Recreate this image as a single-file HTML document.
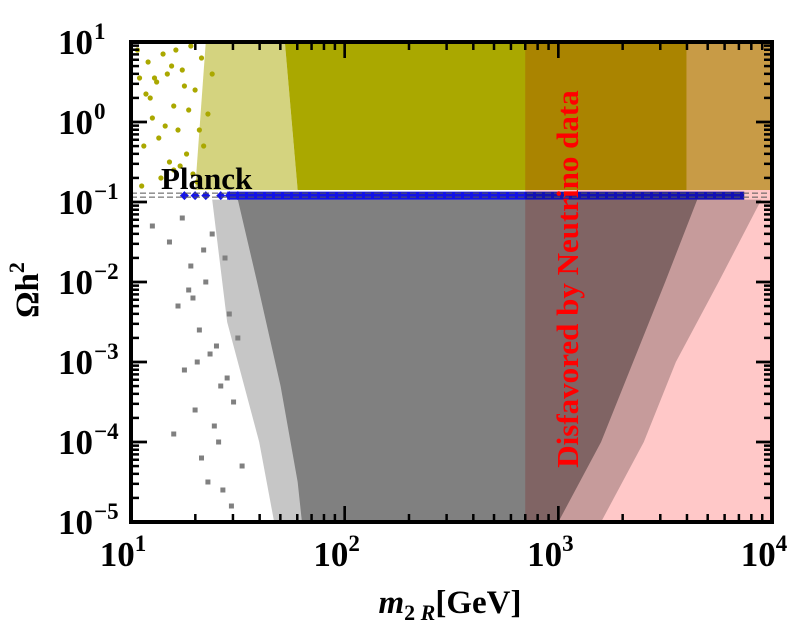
<!DOCTYPE html>
<html><head><meta charset="utf-8"><style>
body{margin:0;background:#fff}
svg text{font-family:"Liberation Serif",serif;font-weight:bold}
</style></head><body>
<svg width="800" height="624" viewBox="0 0 800 624" xmlns="http://www.w3.org/2000/svg">
<defs><clipPath id="pc"><rect x="131" y="42" width="641" height="480"/></clipPath></defs>
<g id="plot" clip-path="url(#pc)"></g>
<g id="over"></g>
<g id="axes"></g>
</svg>
<script>
// log10 coordinates
const xTicksMajor=[1,2,3,4];
const yTicksMajor=[1,0,-1,-2,-3,-4,-5];
const xTickLabels=["1","2","3","4"];
const yTickLabels=["1","0","\u22121","\u22122","\u22123","\u22124","\u22125"];
const planckY=Math.log10(0.12);
const excludedFrom=Math.log10(700);
const oliveFringeL=[[1.35,1],[1.72,1],[1.78,-0.85],[1.3,-0.85]];
const oliveCore=[[1.72,1],[3.6,1],[3.6,-0.85],[1.78,-0.85]];
const oliveFringeR=[[3.6,1],[4,1],[4,-0.85],[3.6,-0.85]];
const greyCore=[[1.5,-0.97],[1.59,-2],[1.7,-3.3],[1.78,-4.5],[1.8,-5],[3.0,-5],[3.2,-4],[3.35,-3],[3.5,-2],[3.65,-0.97]];
const greyFringe=[[1.38,-0.97],[1.45,-2.5],[1.6,-4],[1.67,-5],[3.2,-5],[3.4,-4],[3.55,-3],[3.75,-2],[3.95,-0.97]];
const blueBand=[1.45,3.87];
const oliveX=[1.03,1.08,1.12,1.15,1.2,1.06,1.1,1.18,1.24,1.28,1.14,1.22,1.3,1.05,1.17,1.26,1.33,1.09,1.21,1.29,1.36,1.13,1.25,1.31,1.19,1.27,1.34,1.11,1.23,1.38,1.07,1.16,1.2,1.32,1.04];
const oliveY=[0.9,0.75,0.5,0.85,0.2,-0.3,0.05,-0.5,0.65,0.95,-0.7,-0.1,0.4,-0.8,0.6,-0.4,0.8,0.3,0.9,-0.65,0.1,-0.2,0.45,-0.75,0.7,0.15,-0.3,0.55,-0.55,0.6,0.35,-0.05,-0.6,-0.1,0.55];
const greyX=[1.1,1.18,1.22,1.28,1.32,1.25,1.35,1.3,1.38,1.4,1.2,1.33,1.42,1.27,1.36,1.44,1.31,1.39,1.46,1.24,1.37,1.43,1.48,1.34,1.41,1.5,1.45,1.52,1.29,1.47];
const greyY=[-1.3,-1.5,-2.3,-1.8,-2.6,-3.1,-2.0,-3.6,-1.4,-2.8,-3.9,-4.2,-3.3,-2.1,-4.5,-1.7,-3.0,-3.8,-2.4,-1.2,-2.9,-4.6,-3.5,-1.6,-4.0,-2.7,-3.2,-4.3,-2.2,-4.8];
const blueDiamX=[1.25,1.3,1.35,1.42,1.46,1.5];
function X(l){return 131+(l-1)*213.67}
function Y(l){return 42+(1-l)*80}
const NS="http://www.w3.org/2000/svg";
function mk(t,a,p){const e=document.createElementNS(NS,t);for(const k in a)e.setAttribute(k,a[k]);p.appendChild(e);return e}
const plot=document.getElementById('plot'),over=document.getElementById('over'),axes=document.getElementById('axes');
function poly(pts,fill,op,name){const e=mk('polygon',{points:pts.map(p=>X(p[0])+','+Y(p[1])).join(' '),fill:fill,'fill-opacity':op},plot);

}
poly(oliveFringeL,'#aaa800',0.5,'olive-fringe-left');
poly(oliveCore,'#aaa800',1,'olive-core');
poly(oliveFringeR,'#aaa800',0.65,'olive-fringe-right');
poly(greyFringe,'#808080',0.45,'grey-fringe');
poly(greyCore,'#808080',1,'grey-core');
for(let i=0;i<oliveX.length;i++){const e=mk('circle',{cx:X(oliveX[i]),cy:Y(oliveY[i]),r:2.6,fill:'#aaa800'},plot);

}
for(let i=0;i<greyX.length;i++){const e=mk('rect',{x:X(greyX[i])-2.5,y:Y(greyY[i])-2.5,width:5,height:5,fill:'#808080'},plot);

}
{const e=mk('rect',{x:X(blueBand[0]),y:Y(planckY)-4,width:X(blueBand[1])-X(blueBand[0]),height:8,fill:'#1414e6'},plot);

}
for(const bx of blueDiamX){const cx=X(bx),cy=Y(planckY);const e=mk('polygon',{points:`${cx-4.5},${cy} ${cx},${cy-4.5} ${cx+4.5},${cy} ${cx},${cy+4.5}`,fill:'#1414e6'},plot);

}
{const e=mk('rect',{x:X(excludedFrom),y:42,width:772-X(excludedFrom),height:480,fill:'#ffc8c8',style:'mix-blend-mode:multiply'},plot);

}
for(const dy of [-2.5,1.5]){const e=mk('line',{x1:131,x2:772,y1:Y(planckY)+dy,y2:Y(planckY)+dy,stroke:'#555','stroke-width':1,'stroke-dasharray':'6,3'},plot);

}
{const t=mk('text',{x:161,y:189,'font-size':31,fill:'#000'},over);t.textContent='Planck';

}
{const t=mk('text',{x:0,y:0,'font-size':31,fill:'#ff0000','text-anchor':'middle',transform:'translate(578,279) rotate(-90)'},over);t.textContent='Disfavored by Neutrino data';

}
// ticks
function tick(x1,y1,x2,y2){mk('line',{x1,y1,x2,y2,stroke:'#000','stroke-width':2.5},axes)}
for(let d=1;d<4;d++)for(let m=1;m<=10;m++){const l=d+Math.log10(m);const x=X(l);const L=(m===1||m===10)?16:8;tick(x,522,x,522-L);tick(x,42,x,42+L)}
for(let d=-5;d<1;d++)for(let m=1;m<=10;m++){const l=d+Math.log10(m);const y=Y(l);const L=(m===1||m===10)?16:8;tick(131,y,131+L,y);tick(772,y,772-L,y)}
{const e=mk('rect',{x:131,y:42,width:641,height:480,fill:'none',stroke:'#000','stroke-width':4},axes);

}
xTicksMajor.forEach((v,i)=>{const t=mk('text',{x:X(v)-8,y:566,'font-size':35,'text-anchor':'middle'},axes);


t.innerHTML='10<tspan dy="-15" font-size="23">'+xTickLabels[i]+'</tspan>';});
yTicksMajor.forEach((v,i)=>{const t=mk('text',{x:93,y:Y(v)+12,'font-size':35,'text-anchor':'end'},axes);


t.innerHTML='10';const s=mk('text',{x:94,y:Y(v)-3,'font-size':23},axes);s.textContent=yTickLabels[i];

});
{const t=mk('text',{x:0,y:0,'font-size':33,'text-anchor':'middle',transform:'translate(38,290) rotate(-90)'},axes);
t.innerHTML='Ωh<tspan dy="-14" font-size="22">2</tspan>';

}
{const t=mk('text',{x:450,y:613,'font-size':33,'text-anchor':'middle'},axes);
t.innerHTML='<tspan font-style="italic">m</tspan><tspan font-size="22" dy="7">2 </tspan><tspan font-size="22" font-style="italic">R</tspan><tspan dy="-7">[GeV]</tspan>';

}
</script>
</body></html>
